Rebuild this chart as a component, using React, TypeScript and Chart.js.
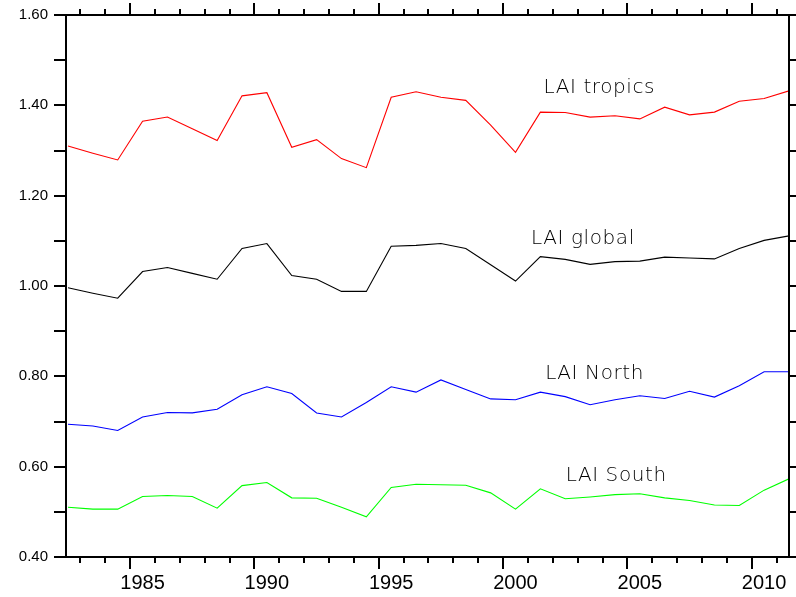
import React, { useEffect, useRef } from "react";
import { Chart, registerables } from "chart.js";

Chart.register(...registerables);

// ---- data (annual means, plotted at mid-year) ----
const years = [
  1982, 1983, 1984, 1985, 1986, 1987, 1988, 1989, 1990, 1991,
  1992, 1993, 1994, 1995, 1996, 1997, 1998, 1999, 2000, 2001,
  2002, 2003, 2004, 2005, 2006, 2007, 2008, 2009, 2010, 2011,
];
const laiTropics = [
  1.310, 1.294, 1.279, 1.365, 1.374, 1.348, 1.322, 1.421, 1.428, 1.307,
  1.324, 1.282, 1.262, 1.418, 1.430, 1.418, 1.411, 1.356, 1.296, 1.385,
  1.384, 1.374, 1.377, 1.370, 1.396, 1.379, 1.385, 1.409, 1.415, 1.432,
];
const laiGlobal = [
  0.996, 0.984, 0.973, 1.032, 1.041, 1.028, 1.015, 1.083, 1.094, 1.023,
  1.015, 0.988, 0.988, 1.088, 1.090, 1.094, 1.083, 1.047, 1.011, 1.065,
  1.059, 1.048, 1.054, 1.055, 1.064, 1.062, 1.060, 1.083, 1.101, 1.111,
];
const laiNorth = [
  0.694, 0.690, 0.680, 0.710, 0.720, 0.719, 0.727, 0.759, 0.777, 0.762,
  0.719, 0.710, 0.742, 0.777, 0.765, 0.792, 0.771, 0.750, 0.748, 0.765,
  0.755, 0.737, 0.748, 0.757, 0.751, 0.767, 0.754, 0.779, 0.810, 0.810,
];
const laiSouth = [
  0.510, 0.506, 0.506, 0.534, 0.536, 0.534, 0.508, 0.558, 0.565, 0.531,
  0.530, 0.510, 0.489, 0.554, 0.561, 0.560, 0.559, 0.542, 0.506, 0.551,
  0.529, 0.533, 0.538, 0.540, 0.531, 0.525, 0.515, 0.514, 0.548, 0.573,
];

const seriesNames = ["LAI tropics", "LAI global", "LAI North", "LAI South"];
const seriesColors = ["#ff0000", "#000000", "#0000ff", "#00ff00"];
// text label anchors (x in years, y in LAI units: text centre / baseline)
const labelYears = [2003.87, 2003.21, 2003.68, 2004.55];
const labelValues = [1.428, 1.092, 0.793, 0.569];

const xTickYears = [1985, 1990, 1995, 2000, 2005, 2010];
const yTickValues = [0.4, 0.6, 0.8, 1.0, 1.2, 1.4, 1.6];
const yMinorValues = [0.4, 0.5, 0.6, 0.7, 0.8, 0.9, 1.0, 1.1, 1.2, 1.3, 1.4, 1.5, 1.6];
const X_MIN = 1982.42;
const X_MAX = 2011.5;
const Y_MIN = 0.4;
const Y_MAX = 1.6;

const framePlugin = {
  id: "ncl-frame",
  afterDraw(chart: any) {
    const { ctx, chartArea } = chart;
    const xs = chart.scales.x;
    const ys = chart.scales.y;
    const { left, right, top, bottom } = chartArea;
    ctx.save();
    ctx.strokeStyle = "#000";
    ctx.lineWidth = 2;
    ctx.lineCap = "butt";
    ctx.strokeRect(left, top, right - left, bottom - top);

    // x ticks (top & bottom, outward)
    ctx.beginPath();
    for (let yr = Math.ceil(X_MIN); yr <= Math.floor(X_MAX); yr++) {
      const px = Math.round(xs.getPixelForValue(yr));
      const len = yr % 5 === 0 ? 12 : 6;
      ctx.moveTo(px, bottom);
      ctx.lineTo(px, bottom + len);
      ctx.moveTo(px, top);
      ctx.lineTo(px, top - len);
    }
    // y ticks (left & right, outward)
    for (const v of yMinorValues) {
      const py = Math.round(ys.getPixelForValue(v));
      ctx.moveTo(left, py);
      ctx.lineTo(left - 12, py);
      ctx.moveTo(right, py);
      ctx.lineTo(right + 12, py);
    }
    ctx.stroke();

    // series labels
    ctx.fillStyle = "#000";
    ctx.font = "200 20px 'DejaVu Sans'";
    (ctx as any).letterSpacing = "0.6px";
    ctx.textAlign = "center";
    ctx.textBaseline = "alphabetic";
    seriesNames.forEach((name, i) => {
      const px = xs.getPixelForValue(labelYears[i]);
      const py = ys.getPixelForValue(labelValues[i]);
      ctx.fillText(name, px, py);
    });
    ctx.restore();
  },
};

export default function App() {
  const ref = useRef<HTMLCanvasElement | null>(null);

  useEffect(() => {
    if (!ref.current) return;
    const mk = (vals: number[]) => years.map((y, i) => ({ x: y + 0.5, y: vals[i] }));
    const allSeries = [laiTropics, laiGlobal, laiNorth, laiSouth];
    const chart = new Chart(ref.current, {
      type: "line",
      data: {
        datasets: allSeries.map((vals, i) => ({
          label: seriesNames[i],
          data: mk(vals),
          borderColor: seriesColors[i],
          backgroundColor: seriesColors[i],
          borderWidth: 1.1,
          pointRadius: 0,
          tension: 0,
          fill: false,
        })),
      },
      options: {
        animation: false,
        responsive: false,
        devicePixelRatio: 1,
        layout: { padding: { top: 15, right: 7, left: 0, bottom: 0 } },
        plugins: {
          legend: { display: false },
          tooltip: { enabled: false },
          title: { display: false },
        },
        scales: {
          x: {
            type: "linear",
            position: "bottom",
            min: X_MIN,
            max: X_MAX,
            afterBuildTicks: (scale: any) => {
              scale.ticks = xTickYears.map((v) => ({ value: v }));
            },
            afterFit: (scale: any) => {
              scale.height = 40;
            },
            grid: { display: false, drawTicks: true, tickLength: 12 },
            border: { display: false },
            ticks: {
              autoSkip: false,
              maxRotation: 0,
              labelOffset: 12.4,
              padding: 2,
              color: "#000",
              font: { family: "'Liberation Sans', Arial, sans-serif", size: 20 },
              callback: (v: any) => String(v),
            },
          },
          y: {
            type: "linear",
            position: "left",
            min: Y_MIN,
            max: Y_MAX,
            afterBuildTicks: (scale: any) => {
              scale.ticks = yTickValues.map((v) => ({ value: v }));
            },
            afterFit: (scale: any) => {
              scale.width = 66;
            },
            grid: { display: false, drawTicks: true, tickLength: 12 },
            border: { display: false },
            ticks: {
              autoSkip: false,
              padding: 6,
              color: "#000",
              font: { family: "'Liberation Sans', Arial, sans-serif", size: 15 },
              callback: (v: any) => Number(v).toFixed(2),
            },
          },
        },
      },
      plugins: [framePlugin],
    });
    return () => chart.destroy();
  }, []);

  return (
    <div style={{ position: "absolute", left: 0, top: 0, width: 796, height: 597, background: "#fff" }}>
      <canvas ref={ref} width={796} height={597} />
    </div>
  );
}
